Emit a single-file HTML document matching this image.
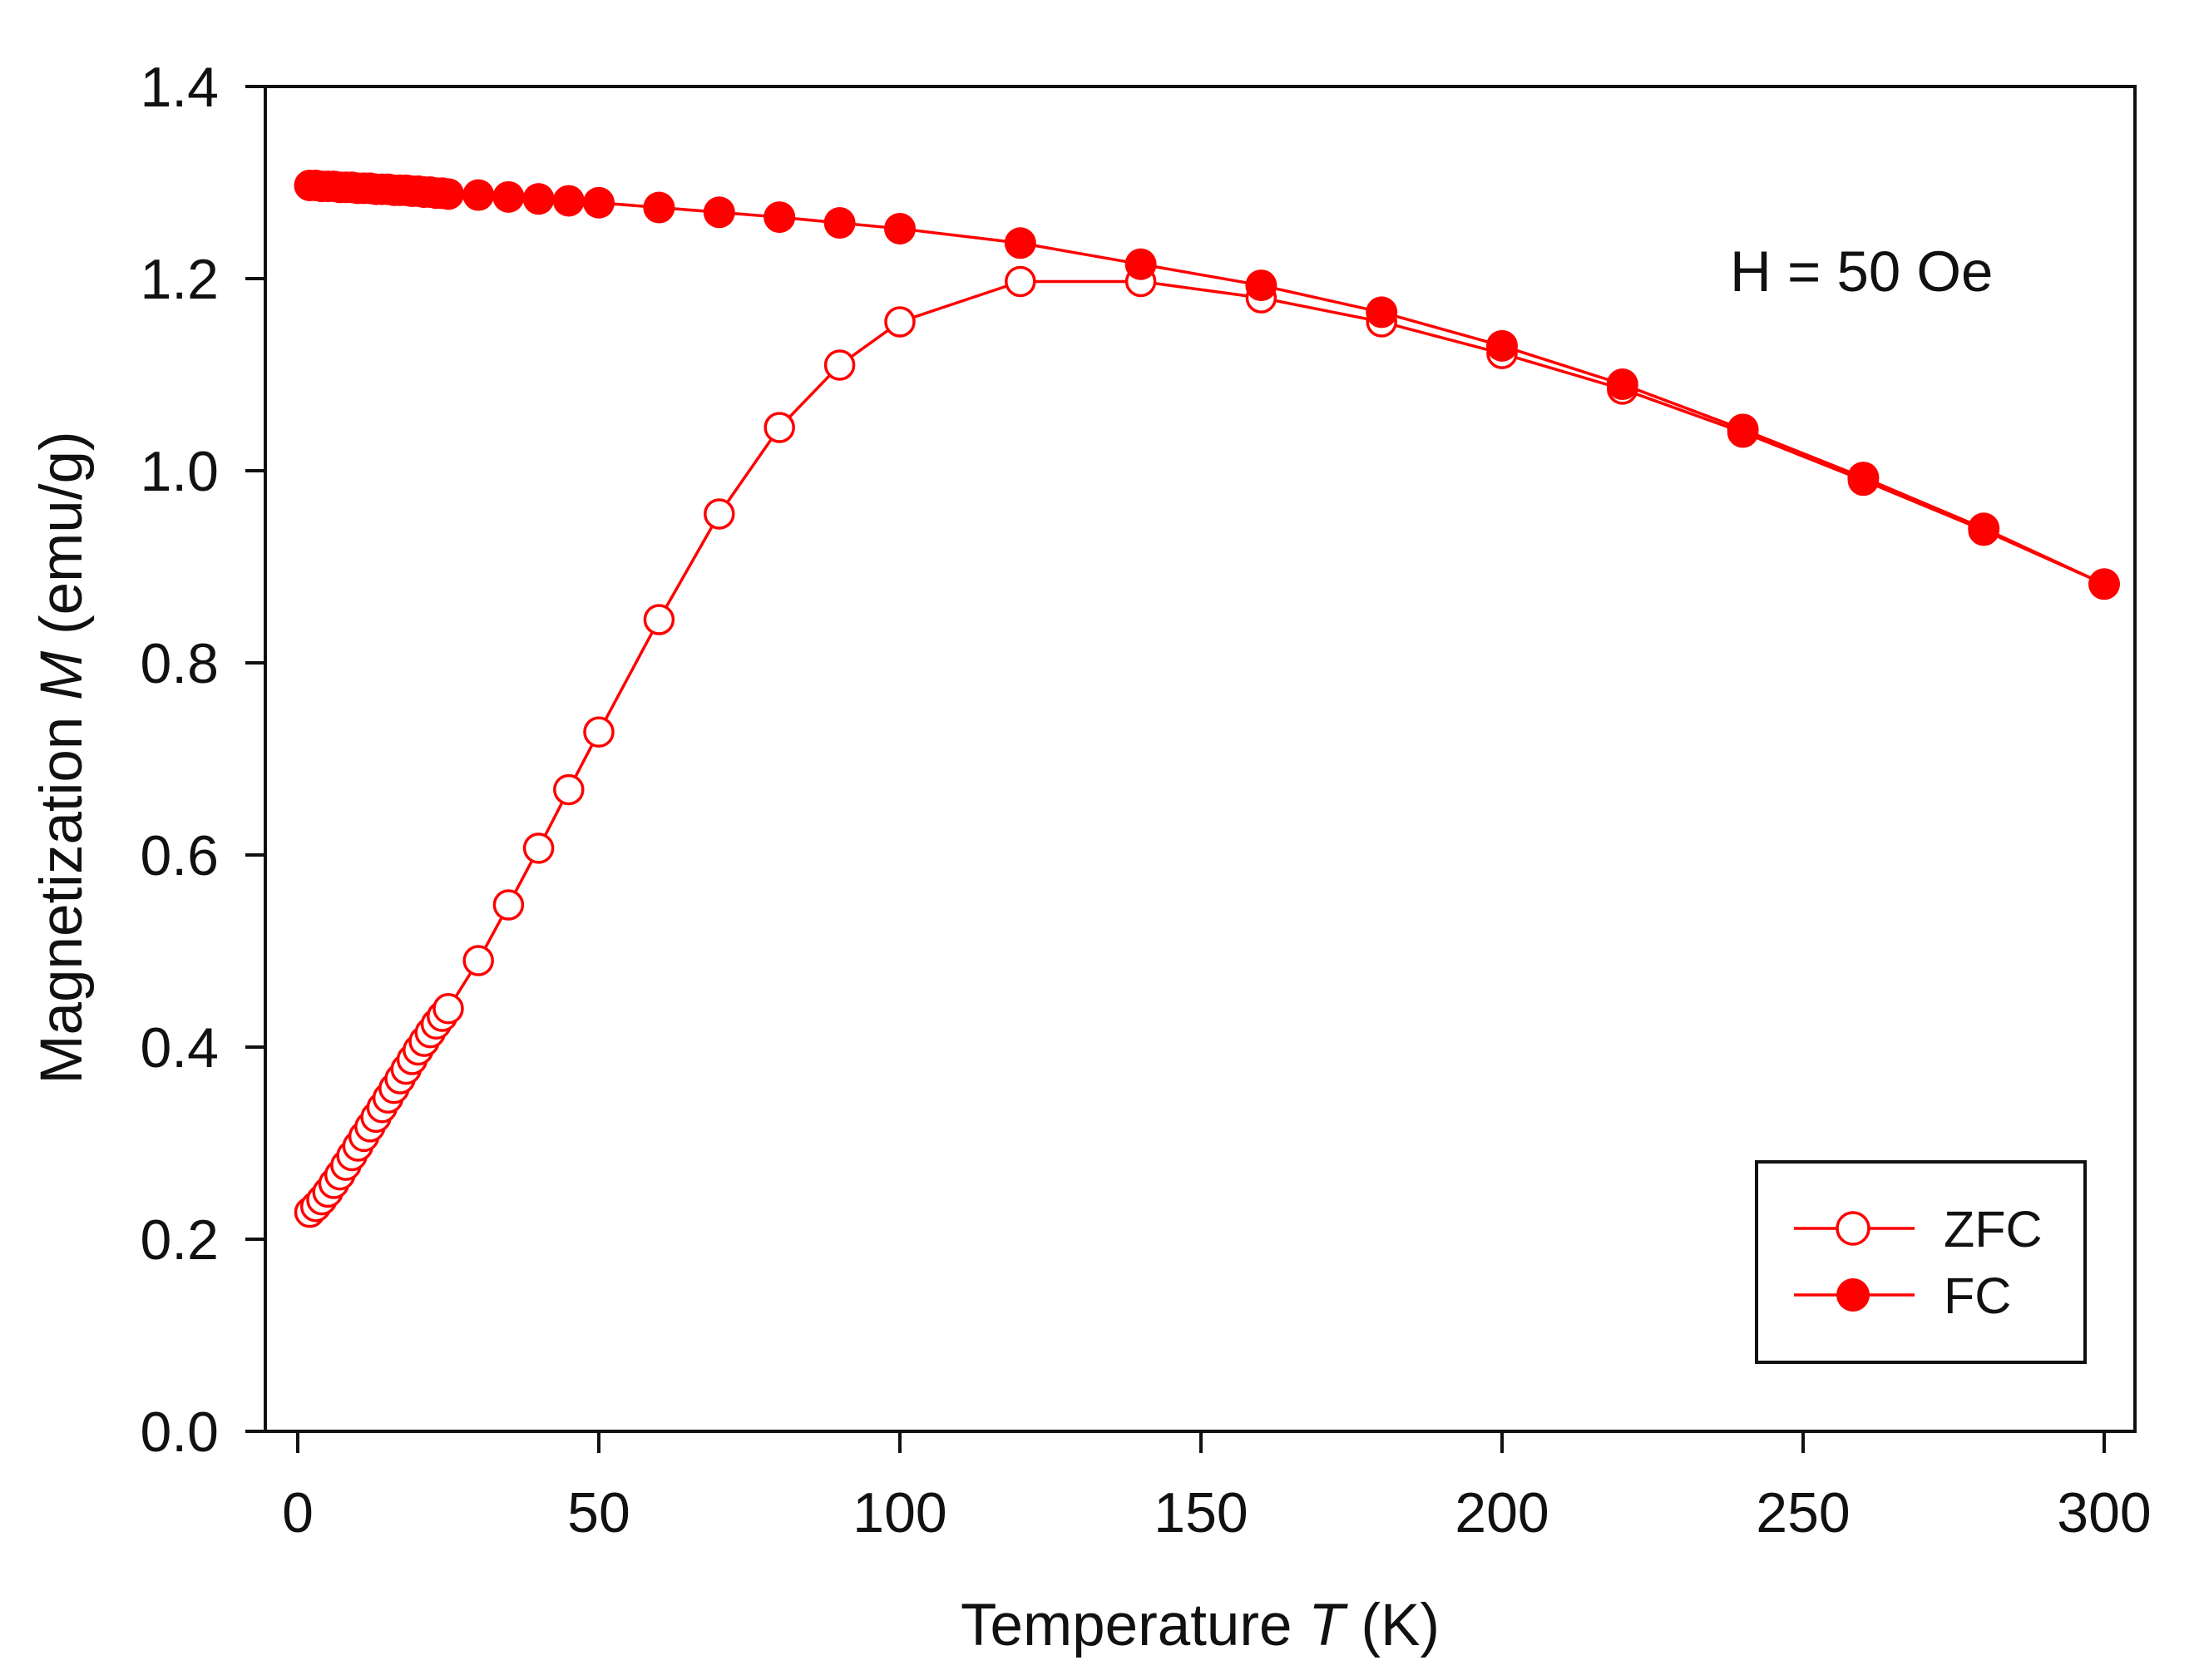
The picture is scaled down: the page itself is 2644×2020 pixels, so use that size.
<!DOCTYPE html>
<html><head><meta charset="utf-8"><style>
html,body{margin:0;padding:0;background:#fff;}
svg{display:block;font-family:"Liberation Sans",Arial,sans-serif;}
</style></head><body>
<svg id="chart" width="2644" height="2020" viewBox="0 0 2644 2020" xmlns="http://www.w3.org/2000/svg">
<g id="axes"></g>
<g id="series"></g>
<text x="2080" y="350" font-size="69" fill="#111">H = 50 Oe</text>
<text transform="translate(98,911) rotate(-90)" text-anchor="middle" font-size="71" fill="#111">Magnetization <tspan font-style="italic">M</tspan> (emu/g)</text>
<text x="1443" y="1978" text-anchor="middle" font-size="71" fill="#111">Temperature <tspan font-style="italic">T</tspan> (K)</text>
<g>
<rect x="2112" y="1397" width="395" height="241" fill="#fff" stroke="#111" stroke-width="4"/>
<g>
<line x1="2157" y1="1477" x2="2302" y2="1477" stroke="#f00" stroke-width="3.5"/>
<circle cx="2228" cy="1477" r="19" fill="#fff" stroke="#f00" stroke-width="3.5"/>
<text x="2337" y="1499" font-size="61" fill="#111">ZFC</text>
</g>
<g>
<line x1="2157" y1="1557" x2="2302" y2="1557" stroke="#f00" stroke-width="3.5"/>
<circle cx="2228" cy="1557" r="20" fill="#f00"/>
<text x="2337" y="1579" font-size="61" fill="#111">FC</text>
</g>
</g>
</svg>
<script>
const xTicks=[0,50,100,150,200,250,300];
const yTicks=[0.0,0.2,0.4,0.6,0.8,1.0,1.2,1.4];
const yTickLabels=["0.0","0.2","0.4","0.6","0.8","1.0","1.2","1.4"];
const zfcT=[2,3,4,5,6,7,8,9,10,11,12,13,14,15,16,17,18,19,20,21,22,23,24,25,30,35,40,45,50,60,70,80,90,100,120,140,160,180,200,220,240,260,280,300];
const zfcM=[0.228,0.234,0.241,0.249,0.258,0.267,0.277,0.287,0.297,0.307,0.317,0.327,0.337,0.347,0.357,0.367,0.377,0.387,0.397,0.406,0.415,0.424,0.432,0.44,0.49,0.548,0.607,0.668,0.728,0.845,0.955,1.045,1.11,1.155,1.197,1.197,1.18,1.155,1.122,1.085,1.04,0.99,0.938,0.882];
const fcT=[2,3,4,5,6,7,8,9,10,11,12,13,14,15,16,17,18,19,20,21,22,23,24,25,30,35,40,45,50,60,70,80,90,100,120,140,160,180,200,220,240,260,280,300];
const fcM=[1.297,1.297,1.296,1.296,1.296,1.295,1.295,1.295,1.294,1.294,1.294,1.293,1.293,1.293,1.292,1.292,1.292,1.291,1.291,1.290,1.290,1.289,1.289,1.288,1.287,1.285,1.283,1.281,1.279,1.274,1.269,1.264,1.258,1.252,1.237,1.215,1.193,1.165,1.13,1.09,1.043,0.993,0.94,0.882];
const NS="http://www.w3.org/2000/svg";
const X0=358,X1=2530,L=319,R=2567,T=104,B=1721;
function xs(v){return X0+v*(X1-X0)/300;}
function ys(v){return B-v*(B-T)/1.4;}
function mk(tag,attrs,parent){const e=document.createElementNS(NS,tag);for(const k in attrs)e.setAttribute(k,attrs[k]);parent.appendChild(e);return e;}
const axes=document.getElementById('axes');
const frame=mk('rect',{x:L,y:T,width:R-L,height:B-T,fill:'none',stroke:'#111','stroke-width':4},axes);


xTicks.forEach(v=>{
 const t=mk('line',{x1:xs(v),y1:B,x2:xs(v),y2:B+26,stroke:'#111','stroke-width':4},axes);
 
 
 const l=mk('text',{x:xs(v),y:1842,'text-anchor':'middle','font-size':68,fill:'#111'},axes);
 
 
 l.textContent=String(v);
});
yTicks.forEach((v,i)=>{
 const t=mk('line',{x1:L-24,y1:ys(v),x2:L,y2:ys(v),stroke:'#111','stroke-width':4},axes);
 
 
 const l=mk('text',{x:263,y:ys(v)+24,'text-anchor':'end','font-size':68,fill:'#111'},axes);
 
 
 l.textContent=yTickLabels[i];
});
const g=document.getElementById('series');
function series(Ts,Ms,filled,name){
 const sg=mk('g',{},g);
 
 
 const pts=Ts.map((t,i)=>xs(t)+','+ys(Ms[i])).join(' ');
 const pl=mk('polyline',{points:pts,fill:'none',stroke:'#f00','stroke-width':3.5},sg);
 
 
 Ts.forEach((t,i)=>{
  const c=mk('circle',{cx:xs(t),cy:ys(Ms[i]),r:filled?19:17,fill:filled?'#f00':'#fff',stroke:'#f00','stroke-width':filled?0:3.5},sg);
  
  
 });
}
series(zfcT,zfcM,false,'zfc-series');
series(fcT,fcM,true,'fc-series');
</script>
</body></html>
